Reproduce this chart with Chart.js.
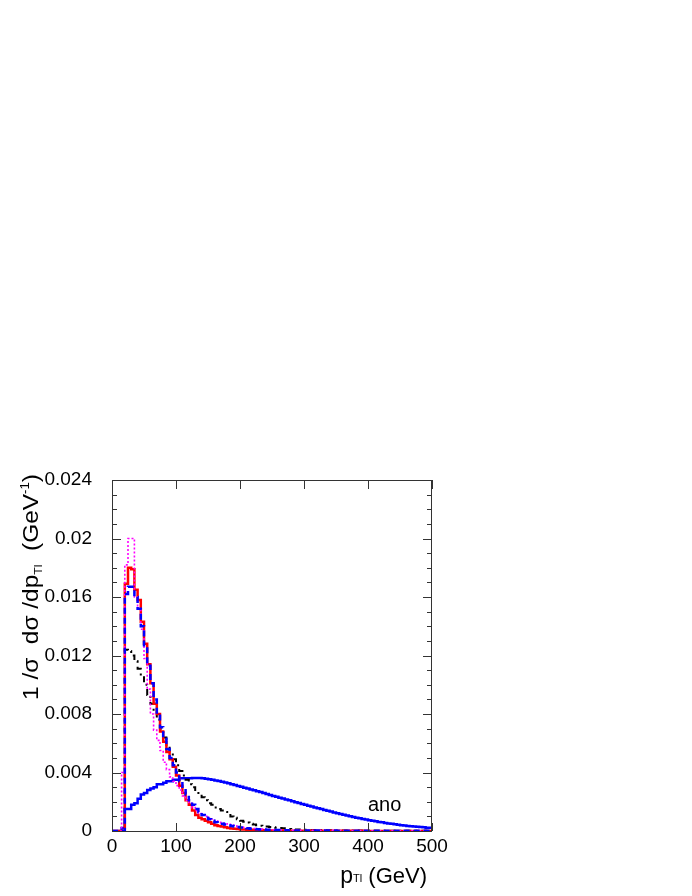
<!DOCTYPE html>
<html><head><meta charset="utf-8">
<script src="https://cdn.jsdelivr.net/npm/chart.js@4.4.0/dist/chart.umd.min.js"></script>
<style>html,body{margin:0;padding:0;background:#fff;}canvas{display:block;}</style>
</head><body>
<canvas id="c" width="692" height="896"></canvas>
<script>
// ---- data ----
const binStart = 0;
const binWidth = 5;
const xTickValues = [0, 100, 200, 300, 400, 500];
const xTickLabels = ['0', '100', '200', '300', '400', '500'];
const yTickValues = [0, 0.004, 0.008, 0.012, 0.016, 0.02, 0.024];
const yTickLabels = ['0', '0.004', '0.008', '0.012', '0.016', '0.02', '0.024'];
const yMinorStep = 0.001;

const redSM = [0,0,0,0,
 0.0169,0.0180,0.0179,0.0165,0.0158,0.0143,0.0128,0.0114,0.0101,0.0087,
 0.0080,0.0068,0.0061,0.0054,0.0049,0.0044,0.0038,0.0031,0.0026,0.0021,
 0.0018,0.0014,0.0011,0.0009,0.0008,0.0007,0.0006,0.0005,0.0004,0.00035,
 0.0003,0.00025,0.0002,0.00017,0.00015,0.00013,0.00011,0.0001,0.00009,0.00008,
 0.00007,0.00006,0.00006,0.00005,0.00005,0.00004,
 0.00004,0.00003,0.00003,0.00003,0.00002,0.00002,0.00002,0.00002,0.00002,0.00001,
 0.00001,0.00001,0.00001,0.00001,0.00001,0.00001,0.00001,0.00001,0.00001,0.00001,
 0.00001,0.00001,0.00001,0.00001,0.00001,0.00001,0.00001,0.00001,0.00001,0.00001,
 0.000005,0.000005,0.000005,0.000005,0.000005,0.000005,0.000005,0.000005,0.000005,0.000005,
 0.000005,0.000005,0.000005,0.000005,0.000005,0.000005,0.000005,0.000005,0.000005,0.000005];

const blueDashed = [0,0,0,0,
 0.0162,0.0167,0.0167,0.0160,0.0152,0.0140,0.0127,0.0113,0.0101,0.0090,
 0.0080,0.0071,0.0063,0.0056,0.0050,0.0045,0.0040,0.0034,0.0029,0.0025,
 0.0021,0.0018,0.0015,0.0013,0.0011,0.0010,0.0008,0.0007,0.0006,0.00055,
 0.0005,0.00045,0.0004,0.00035,0.0003,0.00027,0.00024,0.00021,0.00018,0.00016,
 0.00014,0.00012,0.00011,0.0001,0.00009,0.00008,
 0.00007,0.00006,0.00006,0.00005,0.00005,0.00004,0.00004,0.00004,0.00003,0.00003,
 0.00003,0.00003,0.00003,0.00003,0.00003,0.00003,0.00003,0.00003,0.00003,0.00003,
 0.00002,0.00002,0.00002,0.00002,0.00002,0.00002,0.00002,0.00002,0.00002,0.00002,
 0.00002,0.00002,0.00002,0.00002,0.00002,0.00001,0.00001,0.00001,0.00001,0.00001,
 0.00001,0.00001,0.00001,0.00001,0.00001,0.00001,0.00001,0.00001,0.00001,0.00001];

const pinkDotted = [0,0,0,0.0040,
 0.0182,0.0200,0.0200,0.0160,0.0152,0.0138,0.0118,0.0097,0.0080,0.0069,
 0.0062,0.0055,0.0047,0.0042,0.0037,0.0034,0.0031,0.0028,0.0024,0.0021,
 0.0019,0.0016,0.0014,0.0012,0.0011,0.0010,0.0009,0.0008,0.0007,0.0006,
 0.00055,0.0005,0.00045,0.0004,0.00035,0.0003,0.00027,0.00024,0.00021,0.00019,
 0.00017,0.00015,0.00013,0.00012,0.00011,0.0001,
 0.00009,0.00008,0.00007,0.00007,0.00006,0.00006,0.00005,0.00005,0.00004,0.00004,
 0.00004,0.00004,0.00004,0.00004,0.00004,0.00004,0.00004,0.00004,0.00004,0.00004,
 0.00003,0.00003,0.00003,0.00003,0.00003,0.00003,0.00003,0.00003,0.00003,0.00003,
 0.00002,0.00002,0.00002,0.00002,0.00002,0.00002,0.00002,0.00002,0.00002,0.00002,
 0.00001,0.00001,0.00001,0.00001,0.00001,0.00001,0.00001,0.00001,0.00001,0.00001];

const blackDashDot = [0,0,0,0,
 0.0124,0.0123,0.0120,0.0116,0.0111,0.0106,0.0100,0.0093,0.0087,0.0082,
 0.0076,0.0070,0.0064,0.0058,0.0054,0.0049,0.0045,0.0041,0.0038,0.0035,
 0.0032,0.0030,0.0027,0.0025,0.0023,0.0021,0.0019,0.0018,0.0016,0.0015,
 0.0014,0.0013,0.0011,0.0010,0.0009,0.0008,0.0007,0.00064,0.00058,0.0005,
 0.00045,0.0004,0.00036,0.00033,0.0003,0.00027,
 0.00025,0.00023,0.0002,0.00018,0.00016,0.00014,0.00012,0.00011,0.0001,0.00009,
 0.00008,0.00008,0.00007,0.00007,0.00006,0.00006,0.00005,0.00005,0.00005,0.00004,
 0.00004,0.00004,0.00004,0.00003,0.00003,0.00003,0.00003,0.00003,0.00002,0.00002,
 0.00002,0.00002,0.00002,0.00002,0.00002,0.00002,0.00002,0.00002,0.00002,0.00002,
 0.00001,0.00001,0.00001,0.00001,0.00001,0.00001,0.00001,0.00001,0.00001,0.00001];

const anoSolid = [0,0,0,0.0002,
 0.0015,0.0015,0.0018,0.0019,0.0022,0.0025,0.0026,0.0028,0.0029,0.0030,
 0.0032,0.0032,0.0033,0.0034,0.0034,0.0035,0.0035,0.0036,0.0036,0.0036,
 0.00360,0.00362,0.00362,0.00362,0.00360,0.00358,0.00354,0.00350,0.00346,0.00342,
 0.00337,0.00332,0.00326,0.00320,0.00314,0.00308,0.00302,0.00296,0.00290,0.00284,
 0.00278,0.00272,0.00266,0.00260,0.00253,0.00246,0.00240,0.00234,0.00228,0.00222,
 0.00216,0.00210,0.00203,0.00197,0.00191,0.00185,0.00179,0.00173,0.00167,0.00161,
 0.00155,0.00150,0.00144,0.00138,0.00133,0.00127,0.00122,0.00116,0.00111,0.00106,
 0.00101,0.00096,0.00091,0.00087,0.00082,0.00078,0.00074,0.00070,0.00066,0.00062,
 0.00059,0.00055,0.00052,0.00049,0.00046,0.00043,0.00040,0.00038,0.00035,0.00033,
 0.00031,0.00029,0.00027,0.00025,0.00023,0.00022];

const curveLabel = 'ano';
const curveLabelAt = {x: 400, y: 0.0016};

// ---- build histogram outlines (bin edges) ----
function histPoints(vals) {
  const pts = [];
  vals.forEach((v, i) => {
    const lo = binStart + i * binWidth;
    pts.push({x: lo, y: v});
    pts.push({x: lo + binWidth, y: v});
  });
  return pts;
}

const FONT = '"Liberation Sans", Arial, Helvetica, sans-serif';
const AXIS = '#333';

const decor = {
  id: 'decor',
  afterDraw(chart) {
    const {ctx, chartArea: a, scales: {x, y}} = chart;
    ctx.save();
    // frame
    ctx.strokeStyle = AXIS; ctx.lineWidth = 1;
    ctx.strokeRect(Math.round(a.left) + 0.5, Math.round(a.top) + 0.5,
                   Math.round(a.right - a.left) - 1, Math.round(a.bottom - a.top));
    ctx.beginPath();
    // y ticks (major + minor), inward on both sides
    const yMax = y.max;
    for (let k = 0; k * yMinorStep <= yMax + 1e-9; k++) {
      const v = k * yMinorStep;
      const isMajor = yTickValues.some(t => Math.abs(t - v) < 1e-9);
      const py = Math.round(y.getPixelForValue(v)) + 0.5;
      const len = isMajor ? 9 : 5;
      ctx.moveTo(a.left, py); ctx.lineTo(a.left + len, py);
      ctx.moveTo(a.right, py); ctx.lineTo(a.right - len, py);
    }
    // x ticks, inward top & bottom
    xTickValues.forEach(v => {
      const px = Math.round(x.getPixelForValue(v)) + 0.5;
      ctx.moveTo(px, a.bottom); ctx.lineTo(px, a.bottom - 8);
      ctx.moveTo(px, a.top); ctx.lineTo(px, a.top + 9);
    });
    ctx.stroke();

    ctx.fillStyle = '#000';
    // x title: p_Tl (GeV), right-aligned near right edge
    const segsX = [
      {t: 'p', f: 23, dy: 0},
      {t: 'Tl', f: 11, dy: -1},
      {t: ' (GeV)', f: 22, dy: 0}
    ];
    let wX = 0;
    segsX.forEach(s => { ctx.font = s.f + 'px ' + FONT; s.w = ctx.measureText(s.t).width; wX += s.w; });
    let cx = a.right - 5 - wX;
    ctx.textBaseline = 'alphabetic';
    segsX.forEach(s => { ctx.font = s.f + 'px ' + FONT; ctx.fillText(s.t, cx, 883 + s.dy); cx += s.w; });

    // y title, rotated
    const segsY = [
      {t: '1 /σ  dσ /dp', f: 22, dy: 0},
      {t: 'Tl', f: 11, dy: 4},
      {t: '  (GeV', f: 22, dy: 0},
      {t: '-1', f: 12, dy: -9},
      {t: ')', f: 22, dy: 0}
    ];
    let wY = 0;
    segsY.forEach(s => { ctx.font = s.f + 'px ' + FONT; s.w = ctx.measureText(s.t).width; wY += s.w; });
    const targetW = 226;
    const sc = targetW / wY;
    ctx.save();
    ctx.translate(38, 587);
    ctx.rotate(-Math.PI / 2);
    ctx.scale(sc, 1);
    let ty = -wY / 2;
    segsY.forEach(s => { ctx.font = s.f + 'px ' + FONT; ctx.fillText(s.t, ty, s.dy); ty += s.w; });
    ctx.restore();

    // curve label
    ctx.font = '20px ' + FONT;
    ctx.textAlign = 'left';
    ctx.fillText(curveLabel, x.getPixelForValue(curveLabelAt.x), y.getPixelForValue(curveLabelAt.y) + 3);
    ctx.restore();
  }
};

new Chart(document.getElementById('c'), {
  type: 'line',
  data: {
    datasets: [
      {data: histPoints(blueDashed), borderColor: '#0000ff', borderWidth: 2.5, borderDash: [6, 4], order: 1},
      {data: histPoints(pinkDotted), borderColor: '#ff00ff', borderWidth: 1.6, borderDash: [2, 2], order: 2},
      {data: histPoints(redSM), borderColor: '#ff0000', borderWidth: 2.5, order: 3},
      {data: histPoints(blackDashDot), borderColor: '#000000', borderWidth: 2, borderDash: [6, 4, 2, 4], order: 4},
      {data: histPoints(anoSolid), borderColor: '#0000ff', borderWidth: 2.5, order: 5}
    ]
  },
  options: {
    responsive: false,
    animation: false,
    devicePixelRatio: 1,
    parsing: false,
    normalized: true,
    elements: {point: {radius: 0}, line: {tension: 0, fill: false, borderCapStyle: 'butt', borderJoinStyle: 'miter'}},
    layout: {padding: {top: 480, right: 260, bottom: 0, left: 0}},
    plugins: {legend: {display: false}, tooltip: {enabled: false}},
    scales: {
      x: {
        type: 'linear', min: 0, max: 500,
        afterFit: s => { s.height = 65; },
        afterBuildTicks: s => { s.ticks = xTickValues.map(v => ({value: v})); },
        grid: {display: false, drawTicks: false},
        border: {display: false},
        ticks: {
          padding: 4, color: '#000', font: {family: FONT, size: 19},
          maxRotation: 0, autoSkip: false,
          callback: (v) => xTickLabels[xTickValues.indexOf(v)]
        }
      },
      y: {
        type: 'linear', min: 0, max: 0.024,
        afterFit: s => { s.width = 112; },
        afterBuildTicks: s => { s.ticks = yTickValues.map(v => ({value: v})); },
        grid: {display: false, drawTicks: false},
        border: {display: false},
        ticks: {
          padding: 20, color: '#000', font: {family: FONT, size: 19},
          autoSkip: false,
          callback: (v) => { const i = yTickValues.findIndex(t => Math.abs(t - v) < 1e-9); return i >= 0 ? yTickLabels[i] : ''; }
        }
      }
    }
  },
  plugins: [decor]
});
</script>
</body></html>
